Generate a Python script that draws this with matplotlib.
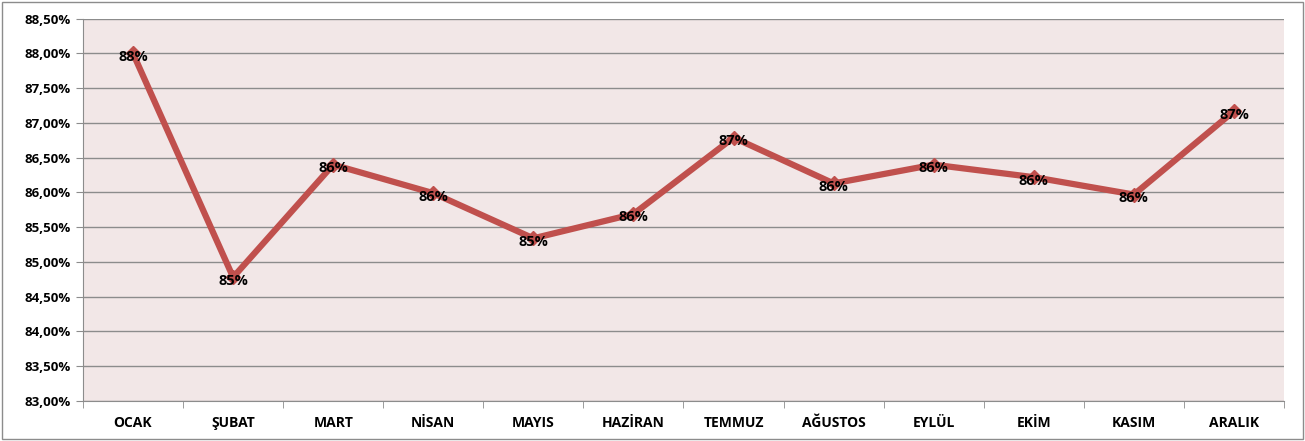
import matplotlib
matplotlib.use("Agg")
import matplotlib.pyplot as plt
import numpy as np
from matplotlib.ticker import FuncFormatter, FixedLocator
from matplotlib.patches import Rectangle

months = ["OCAK", "ŞUBAT", "MART", "NİSAN", "MAYIS", "HAZİRAN",
          "TEMMUZ", "AĞUSTOS", "EYLÜL", "EKİM", "KASIM", "ARALIK"]
values = [88.00, 84.78, 86.40, 85.99, 85.34, 85.69,
          86.79, 86.13, 86.40, 86.22, 85.97, 87.17]

plt.rcParams['font.family'] = ['Open Sans', 'DejaVu Sans']

fig = plt.figure(figsize=(13.05, 4.41), dpi=100)
ax = fig.add_axes([83/1305, 1-401/441, (1284-83)/1305, (401-18.7)/441])
ax.set_facecolor("#F2E7E7")

x = np.arange(len(months))
ax.plot(x, values, color="#C0504D", linewidth=4.5, marker="D", markersize=7,
        solid_joinstyle="miter", zorder=3)
for xi, v in zip(x, values):
    ax.text(xi, v - 0.05, f"{round(v):.0f}%", ha="center", va="center",
            fontsize=10.5, fontweight="bold", color="black", zorder=4)

ax.set_xlim(-0.5, len(months) - 0.5)
ax.set_ylim(83, 88.5)
ax.set_yticks(np.arange(83, 88.51, 0.5))
ax.yaxis.set_major_formatter(FuncFormatter(lambda v, p: f"{v:.2f}%".replace(".", ",")))
ax.grid(axis="y", color="#8C8C8C", linewidth=1)
ax.set_axisbelow(True)

ax.set_xticks(x)
ax.set_xticklabels(months, fontsize=10, fontweight="bold")
ax.xaxis.set_minor_locator(FixedLocator(np.arange(-0.5, len(months), 1)))
ax.tick_params(axis="x", which="major", length=0, pad=11)
ax.tick_params(axis="x", which="minor", length=5, color="#8C8C8C")
ax.tick_params(axis="y", length=5, color="#8C8C8C", labelsize=9.5, pad=4)
for lbl in ax.get_yticklabels():
    lbl.set_fontweight("bold")

for s in ["top", "right"]:
    ax.spines[s].set_visible(False)
for s in ["left", "bottom"]:
    ax.spines[s].set_color("#8C8C8C")

fig.patches.append(Rectangle((2/1305, 2/441), 1-4/1305, 1-4/441,
                             transform=fig.transFigure, fill=False,
                             edgecolor="#8C8C8C", linewidth=1))

fig.savefig("out.png", dpi=100)
